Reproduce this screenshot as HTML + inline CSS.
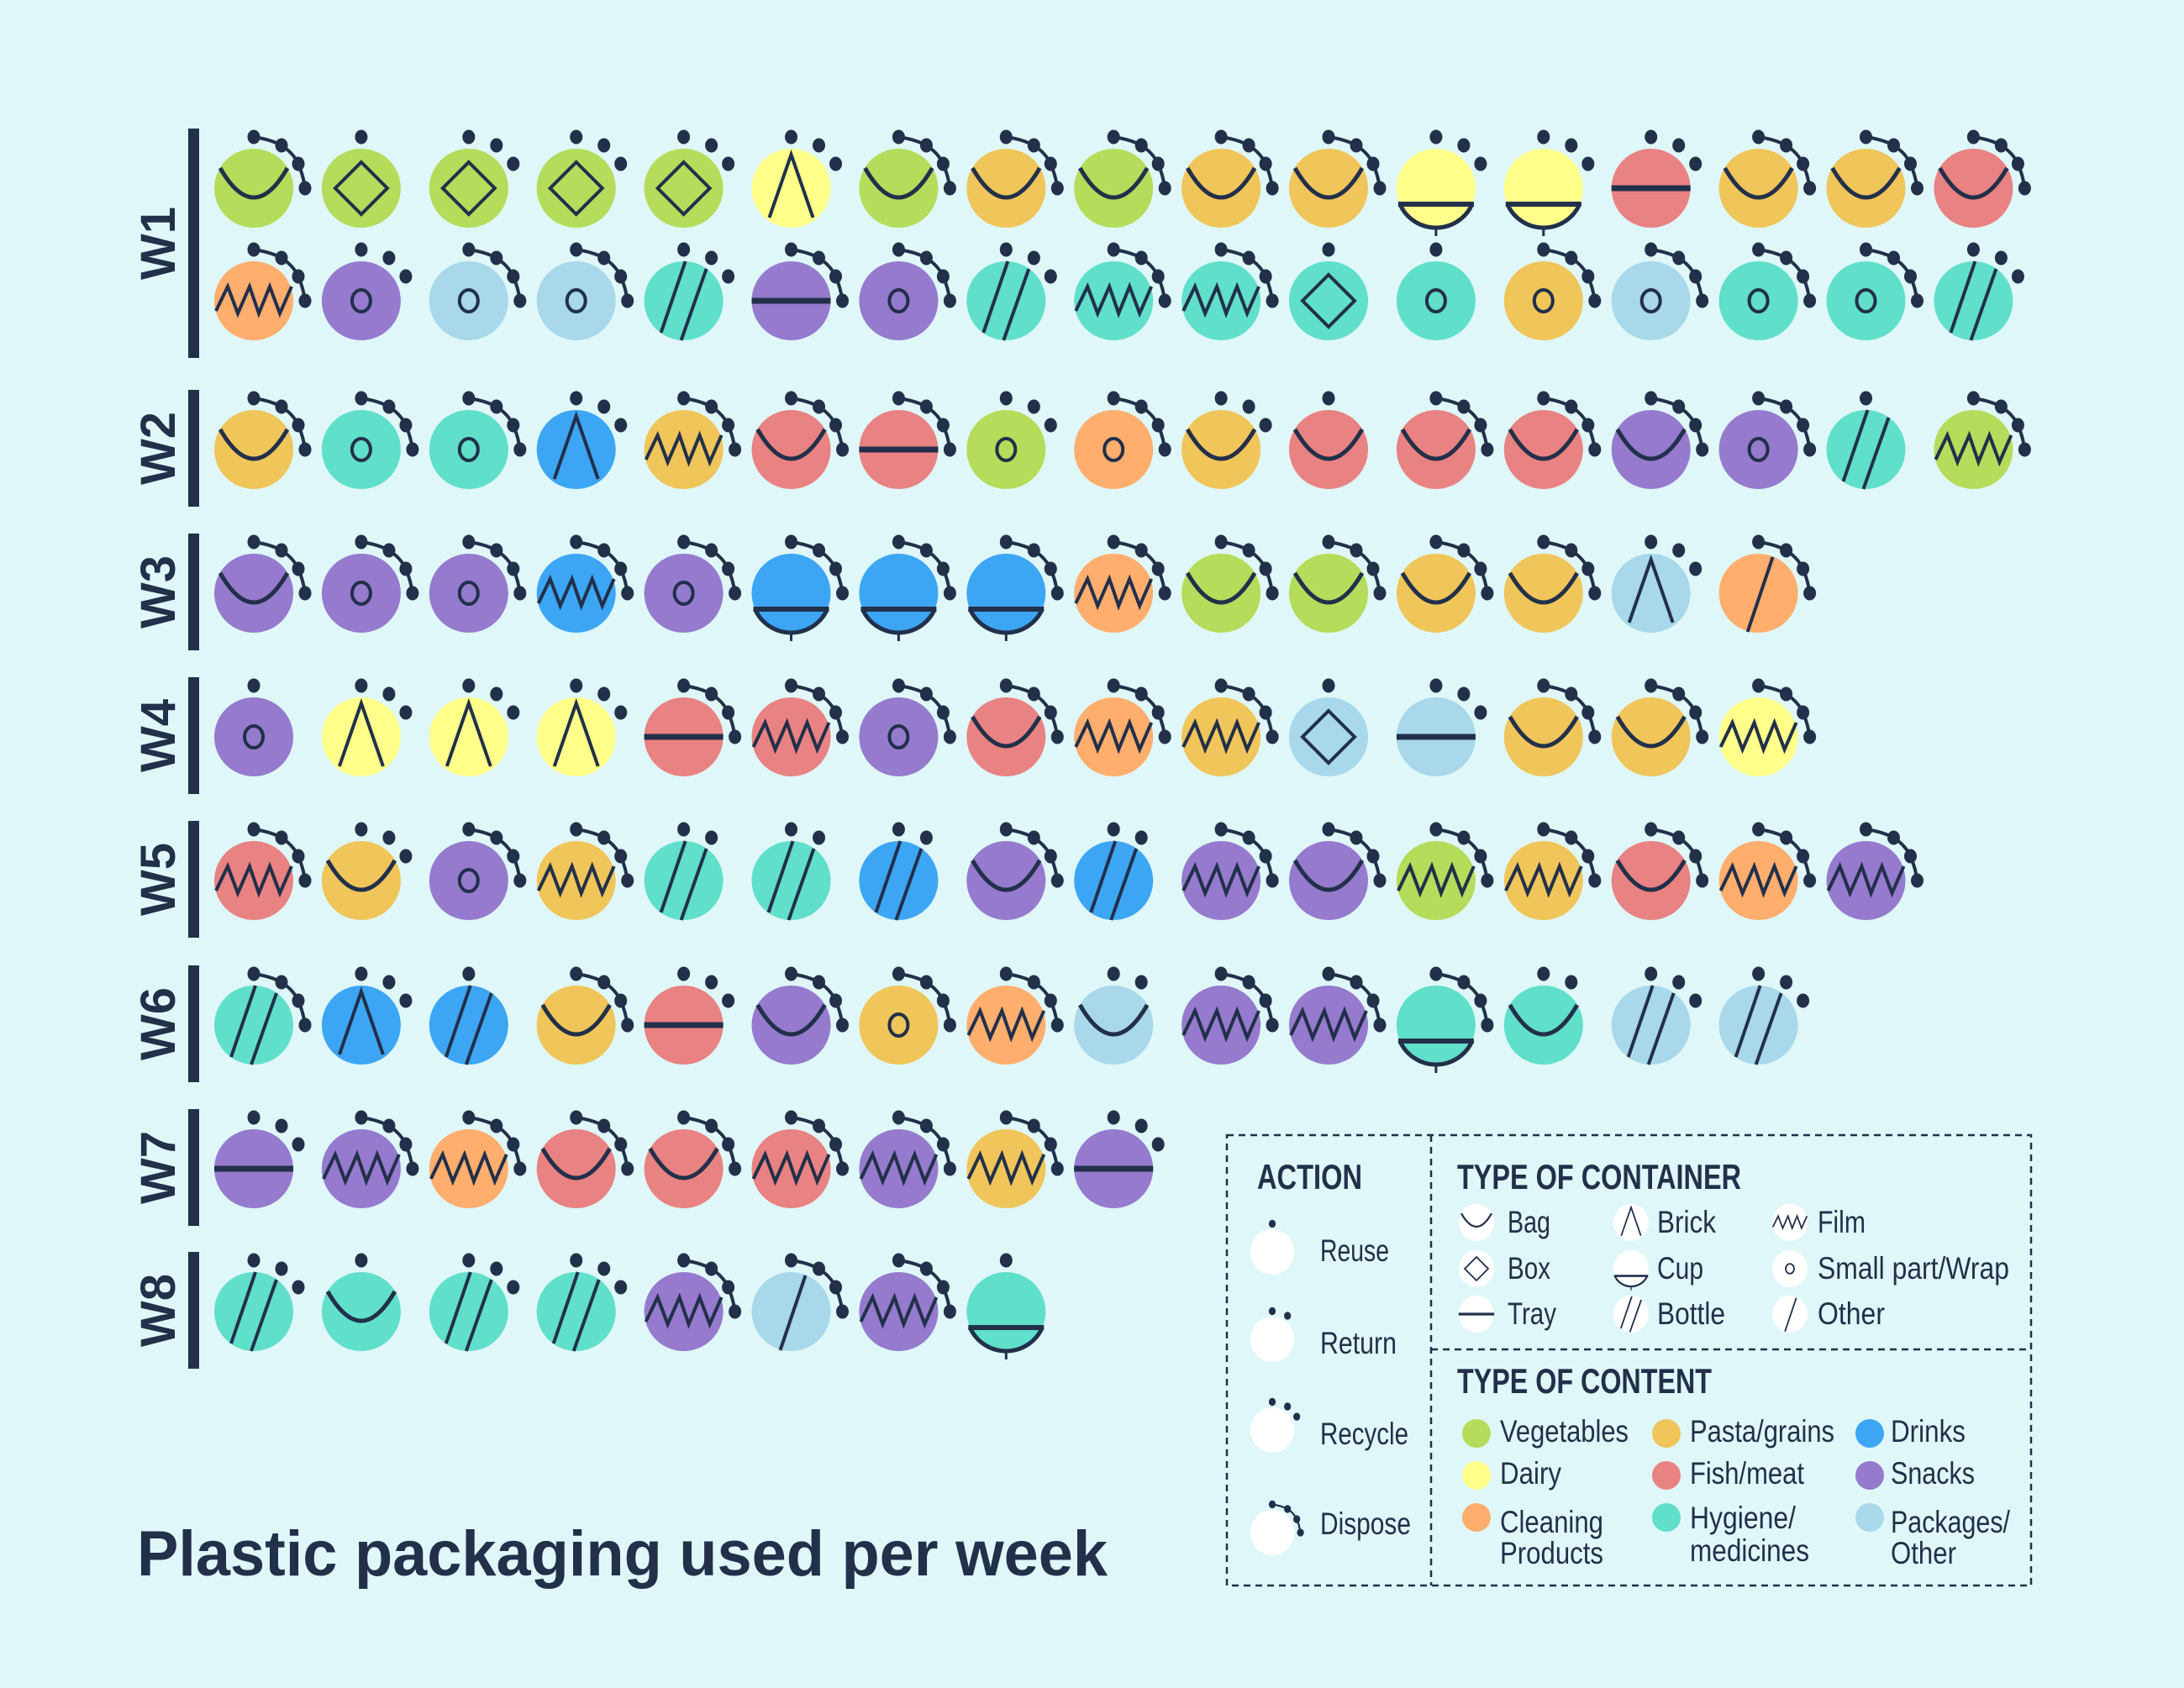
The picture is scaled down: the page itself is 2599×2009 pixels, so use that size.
<!DOCTYPE html>
<html><head><meta charset="utf-8"><style>
html,body{margin:0;padding:0;background:#dff7f8}
svg{display:block}
text{font-family:"Liberation Sans",sans-serif;fill:#22304a}
</style></head><body>
<svg id="chart" width="2599" height="2009" viewBox="0 0 2599 2009" xmlns="http://www.w3.org/2000/svg">
<rect x="0" y="0" width="2599" height="2009" fill="#dff7f8"/>
<g id="rows"></g>
<text x="163" y="1875" font-size="76" font-weight="bold" textLength="1155" lengthAdjust="spacingAndGlyphs">Plastic packaging used per week</text>
<g id="legend">
<rect x="1460" y="1351" width="957" height="536" fill="none" stroke="#22304a" stroke-width="2.5" stroke-dasharray="8 6"/>
<line x1="1703" y1="1351" x2="1703" y2="1887" stroke="#22304a" stroke-width="2.5" stroke-dasharray="8 6"/>
<line x1="1703" y1="1606" x2="2417" y2="1606" stroke="#22304a" stroke-width="2.5" stroke-dasharray="8 6"/>
<text x="1496" y="1415" font-size="42" font-weight="bold" textLength="125" lengthAdjust="spacingAndGlyphs">ACTION</text>
<text x="1734" y="1415" font-size="42" font-weight="bold" textLength="338" lengthAdjust="spacingAndGlyphs">TYPE OF CONTAINER</text>
<text x="1734" y="1658" font-size="42" font-weight="bold" textLength="303" lengthAdjust="spacingAndGlyphs">TYPE OF CONTENT</text>
</g>
</svg>
<script>
const weekLabels = ["W1","W2","W3","W4","W5","W6","W7","W8"];
const rowWeek = [0,0,1,2,3,4,5,6,7];
const rowContent = [
 "V V V V V Y V P V P P Y Y F P P F",
 "C S O O H S S H H H H H P O H H H",
 "P H H D P F F V C P F F F S S H V",
 "S S S D S D D D C V V P P O C",
 "S Y Y Y F F S F C P O O P P Y",
 "F P S P H H D S D S S V P F C S",
 "H D D P F S P C O S S H H O O",
 "S S C F F F S P S",
 "H H H H S O S H"
];
const rowContainer = [
 "bag box box box box brick bag bag bag bag bag cup cup tray bag bag bag",
 "film small small small bottle tray small bottle film film box small small small small small bottle",
 "bag small small brick film bag tray small small bag bag bag bag bag small bottle film",
 "bag small small film small cup cup cup film bag bag bag bag brick other",
 "small brick brick brick tray film small bag film film box tray bag bag film",
 "film bag small film bottle bottle bottle bag bottle film bag film film bag film film",
 "bottle brick bottle bag tray bag small film bag film film cup bag bottle bottle",
 "tray film film bag bag film film film tray",
 "bottle bag bottle bottle film other film cup"
];
const rowAction = [
 "d u c c c c d d d d d c c c d d d",
 "d c d d c d d c d d u u d d d d c",
 "d d d c d d d c d c u d d d d u d",
 "d d d d d d d d d d d d d c d",
 "u c c c d d d d d d u c d d d",
 "d c d d r r r d r d d d d d d d",
 "d c u d c d d d r d d d r c c",
 "c d d d d d d d c",
 "c u c c d d d u"
];
const contentNames = {V:"Vegetables",P:"Pasta/grains",D:"Drinks",Y:"Dairy",F:"Fish/meat",S:"Snacks",C:"Cleaning Products",H:"Hygiene/medicines",O:"Packages/Other"};
const actionNames = {u:"reuse",r:"return",c:"recycle",d:"dispose"};

const palette = {V:"#b5dc5a",P:"#f0c55a",D:"#3ca6f5",Y:"#ffff8a",F:"#e98282",S:"#957ace",C:"#ffae6e",H:"#60dfcb",O:"#a8d8ea"};
const INK = "#22304a";
const NS = "http://www.w3.org/2000/svg";
const X0 = 302, STEP = 127.9, R = 47;
const rowY = [224,358,535,706,877,1048,1220,1391,1561];
function xPos(i){ return X0 + i*STEP; }
function yPos(r){ return rowY[r]; }

function el(tag, attrs, parent){
  const e = document.createElementNS(NS, tag);
  for (const k in attrs) e.setAttribute(k, attrs[k]);
  if (parent) parent.appendChild(e);
  return e;
}
function glyph(type, g){
  const s = {stroke:INK, fill:"none", "stroke-linejoin":"miter"};
  let e;
  if (type==="bag") e = el("path", Object.assign({d:"M-40,-24 Q0,46 40,-24","stroke-width":5}, s), g);
  else if (type==="box") e = el("polygon", Object.assign({points:"0,-31 31,0 0,31 -31,0","stroke-width":4}, s), g);
  else if (type==="tray") e = el("line", Object.assign({x1:-47,y1:0,x2:47,y2:0,"stroke-width":7}, s), g);
  else if (type==="brick") e = el("polyline", Object.assign({points:"-26,35 0,-40 26,35","stroke-width":4}, s), g);
  else if (type==="cup"){
    e = el("line", Object.assign({x1:-45,y1:19,x2:45,y2:19,"stroke-width":6}, s), g);
    el("path", Object.assign({d:"M-43,19 A47,47 0 0 0 43,19","stroke-width":5}, s), g);
    el("line", Object.assign({x1:0,y1:46,x2:0,y2:57,"stroke-width":3}, s), g);
  }
  else if (type==="bottle"){
    e = el("line", Object.assign({x1:2,y1:-47,x2:-27,y2:38,"stroke-width":4}, s), g);
    el("line", Object.assign({x1:27,y1:-38,x2:-3,y2:47,"stroke-width":4}, s), g);
  }
  else if (type==="film") e = el("polyline", Object.assign({points:"-45,12 -31,-17 -19,15 -5,-17 6,15 19,-17 31,15 45,-17","stroke-width":4}, s), g);
  else if (type==="small") e = el("ellipse", Object.assign({cx:0,cy:0,rx:11,ry:13,"stroke-width":4}, s), g);
  else if (type==="other") e = el("line", Object.assign({x1:17,y1:-43,x2:-13,y2:46,"stroke-width":4}, s), g);
  if (e){
    
    
  }
}
function actionMarks(act, g){
  const dots = [[0,-61],[33,-51],[53,-29],[61,0]];
  const n = {u:1,r:2,c:3,d:4}[act];
  if (act==="d"){
    const p = el("path", {d:"M0,-61 Q20,-58 33,-51 Q47,-42 53,-29 Q59,-15 61,0", stroke:INK, fill:"none", "stroke-width":4}, g);
    
    
  }
  for (let k=0;k<n;k++){
    const d = el("ellipse", {cx:dots[k][0], cy:dots[k][1], rx:7.5, ry:8.5, fill:INK}, g);
    
    
  }
}

const rowsG = document.getElementById("rows");
weekLabels.forEach((w, wi) => {
  const rows = rowWeek.map((v,i)=>v===wi?i:-1).filter(i=>i>=0);
  const top = yPos(rows[0]) - 71, bot = yPos(rows[rows.length-1]) + 68;
  const bar = el("rect", {x:224, y:top, width:13, height:bot-top, fill:INK}, rowsG);
  
  
  const cy = (top+bot)/2;
  const t = el("text", {x:0, y:0, "font-size":58, "font-weight":"bold", "text-anchor":"middle", transform:"translate(208,"+cy+") rotate(-90)"}, rowsG);
  t.textContent = w;
  
  
});
rowContent.forEach((row, r) => {
  const cs = row.split(" "), ks = rowContainer[r].split(" "), as = rowAction[r].split(" ");
  cs.forEach((c, i) => {
    const g = el("g", {transform:"translate("+xPos(i)+","+yPos(r)+")"}, rowsG);
    
    
    const circ = el("circle", {cx:0, cy:0, r:R, fill:palette[c]}, g);
    
    
    glyph(ks[i], g);
    actionMarks(as[i], g);
    const tt = el("title", {}, g);
    tt.textContent = contentNames[c] + ", " + ks[i] + ", " + actionNames[as[i]];
  });
});

const lg = document.getElementById("legend");
const legActions = ["u","r","c","d"];
const legActionLabels = ["Reuse","Return","Recycle","Dispose"];
const legActionW = [82,91,105,108];
const legActionCY = [1490,1594,1702,1824];
const legActionBase = [1501,1611,1719,1826];
legActions.forEach((a,i)=>{
  const g = el("g", {transform:"translate(1514,"+legActionCY[i]+")"}, lg);
  
  
  el("ellipse", {cx:0, cy:0, rx:26, ry:27, fill:"#ffffff"}, g);
  const s = el("g", {transform:"scale(0.55)"}, g);
  actionMarks(a, s);
  const t = el("text", {x:1571, y:legActionBase[i], "font-size":37, textLength:legActionW[i], lengthAdjust:"spacingAndGlyphs"}, lg);
  t.textContent = legActionLabels[i];
  
  
});
const legCont = [["bag","Bag",51],["box","Box",51],["tray","Tray",58],["brick","Brick",70],["cup","Cup",55],["bottle","Bottle",81],["film","Film",57],["small","Small part/Wrap",228],["other","Other",80]];
const legContIconX = [1757,1941,2130], legContTextX = [1794,1972,2163], legContY = [1455,1510,1564];
legCont.forEach((c,i)=>{
  const col = Math.floor(i/3), row = i%3;
  const g = el("g", {transform:"translate("+legContIconX[col]+","+legContY[row]+")"}, lg);
  
  
  el("ellipse", {cx:0, cy:0, rx:21, ry:22, fill:"#ffffff"}, g);
  const s = el("g", {transform:"scale(0.45)"}, g);
  glyph(c[0], s);
  const t = el("text", {x:legContTextX[col], y:legContY[row]+12, "font-size":37, textLength:c[2], lengthAdjust:"spacingAndGlyphs"}, lg);
  t.textContent = c[1];
  
  
});
const legContent = [["V",["Vegetables"],[153]],["Y",["Dairy"],[73]],["C",["Cleaning","Products"],[123,123]],["P",["Pasta/grains"],[172]],["F",["Fish/meat"],[136]],["H",["Hygiene/","medicines"],[126,142]],["D",["Drinks"],[89]],["S",["Snacks"],[100]],["O",["Packages/","Other"],[142,78]]];
const legDotX = [1757,1983,2225], legTxtX = [1785,2011,2250], legDotY = [1706,1756,1806];
legContent.forEach((c,i)=>{
  const col = Math.floor(i/3), row = i%3;
  const d = el("ellipse", {cx:legDotX[col], cy:legDotY[row], rx:17, ry:17, fill:palette[c[0]]}, lg);
  
  
  c[1].forEach((line,li)=>{
    let y = legDotY[row]+10;
    if (c[1].length>1) y = (li===0 ? legDotY[row]+18 : legDotY[row]+55);
    if (c[0]==="H") y = (li===0 ? legDotY[row]+13 : legDotY[row]+52);
    const t = el("text", {x:legTxtX[col], y:y, "font-size":37, textLength:c[2][li], lengthAdjust:"spacingAndGlyphs"}, lg);
    t.textContent = line;
    
    
  });
});
</script>
</body></html>
